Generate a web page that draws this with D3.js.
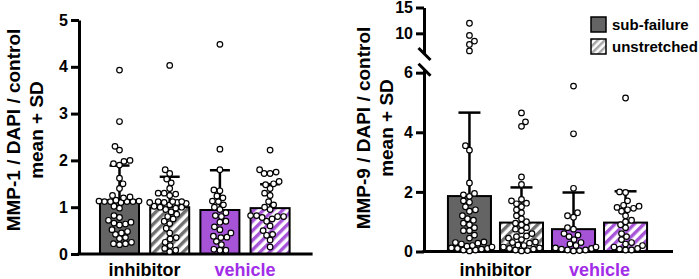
<!DOCTYPE html>
<html>
<head>
<meta charset="utf-8">
<script src="https://cdn.jsdelivr.net/npm/d3@7"></script>
<style>
  body { margin: 0; background: #fff; }
  svg { display: block; }
  svg text { font-family: "Liberation Sans", Arial, sans-serif; font-weight: bold; }
</style>
</head>
<body>
<div id="plot"></div>
<script>
// groups shown on the x axis, two conditions each
const groups = ["inhibitor", "vehicle"];
const conditions = ["sub-failure", "unstretched"];

// MMP-1 panel: bar = mean, whisker = +SD
const mmp1Means = [1.15, 1.00, 0.94, 0.98];
const mmp1SD = [0.74, 0.65, 0.85, 0.51];
// individual points per bar
const mmp1InhSub = [3.93, 2.83, 2.30, 2.22, 2.00, 1.98, 1.93, 1.90, 1.62, 1.50, 1.40, 1.25, 1.22, 1.20, 1.15, 1.13, 1.12, 1.12, 1.10, 1.12, 1.13, 1.12, 1.02, 0.98, 0.82, 0.78, 0.72, 0.68, 0.66, 0.64, 0.62, 0.52, 0.48, 0.45, 0.42, 0.35, 0.33, 0.25, 0.22, 0.22, 0.20];
const mmp1InhUn = [4.03, 1.80, 1.72, 1.60, 1.52, 1.40, 1.30, 1.30, 1.28, 1.25, 1.12, 1.12, 1.10, 1.10, 1.12, 1.08, 1.10, 1.05, 1.02, 1.00, 1.00, 0.98, 0.95, 0.90, 0.85, 0.80, 0.75, 0.70, 0.65, 0.55, 0.45, 0.35, 0.32, 0.25, 0.18, 0.12, 0.08, 0.05];
const mmp1VehSub = [4.48, 2.24, 1.80, 1.37, 1.35, 1.24, 1.20, 1.13, 1.12, 1.05, 1.00, 0.95, 0.88, 0.82, 0.80, 0.70, 0.68, 0.58, 0.52, 0.45, 0.38, 0.36, 0.35, 0.27, 0.20, 0.10, 0.08, 0.08];
const mmp1VehUn = [2.22, 1.80, 1.75, 1.72, 1.72, 1.55, 1.50, 1.48, 1.40, 1.30, 1.25, 1.12, 1.05, 1.00, 0.95, 0.82, 0.82, 0.80, 0.80, 0.78, 0.75, 0.70, 0.60, 0.50, 0.42, 0.40, 0.30, 0.15];

// MMP-9 panel
const mmp9Means = [1.86, 0.97, 0.75, 0.97];
const mmp9SD = [2.80, 1.18, 1.23, 1.05];
const mmp9InhSub = [11.95, 9.6, 8.5, 7.85, 6.6, 3.55, 3.40, 2.30, 1.95, 1.90, 1.85, 1.70, 1.65, 1.50, 1.40, 1.35, 1.20, 1.10, 1.05, 0.95, 0.90, 0.80, 0.70, 0.70, 0.55, 0.45, 0.32, 0.30, 0.28, 0.25, 0.20, 0.18, 0.15, 0.12, 0.10, 0.10, 0.08, 0.05, 0.05, 0.02];
const mmp9InhUn = [4.65, 4.35, 4.20, 2.50, 2.25, 1.75, 1.70, 1.62, 1.60, 1.50, 1.40, 1.30, 1.20, 1.10, 1.00, 0.95, 0.90, 0.80, 0.75, 0.70, 0.60, 0.52, 0.50, 0.45, 0.40, 0.32, 0.30, 0.28, 0.22, 0.20, 0.15, 0.12, 0.10, 0.08, 0.05, 0.03, 0.02];
const mmp9VehSub = [5.55, 3.95, 2.12, 1.30, 1.20, 1.15, 0.80, 0.75, 0.60, 0.55, 0.50, 0.40, 0.30, 0.25, 0.20, 0.15, 0.12, 0.10, 0.08, 0.05, 0.05, 0.03, 0.02];
const mmp9VehUn = [5.15, 2.00, 1.98, 1.70, 1.55, 1.52, 1.48, 1.45, 1.40, 1.35, 1.20, 1.05, 1.00, 0.90, 0.80, 0.60, 0.50, 0.40, 0.30, 0.25, 0.20, 0.15, 0.10, 0.08, 0.05, 0.05];

const mmp1Ticks = [0, 1, 2, 3, 4, 5];
const mmp9LowTicks = [0, 2, 4, 6];
const mmp9HighTicks = [10, 15];

const gray = "#646464", purple = "#a653d8", labelPurple = "#a22de8";

const svg = d3.select("#plot").append("svg")
  .attr("width", 699).attr("height", 279);

const defs = svg.append("defs");
function hatch(id, color, size) {
  const p = defs.append("pattern")
    .attr("id", id)
    .attr("patternUnits", "userSpaceOnUse")
    .attr("width", size).attr("height", size)
    .attr("patternTransform", "rotate(45)");
  p.append("rect").attr("width", size).attr("height", size).attr("fill", "#fff");
  p.append("rect").attr("width", size / 2).attr("height", size).attr("fill", color);
}
hatch("hatchGray", "#707070", 6.8);
hatch("hatchPurple", purple, 6.8);
hatch("hatchLegend", "#a8a8a8", 5);

const fills = [gray, "url(#hatchGray)", purple, "url(#hatchPurple)"];
const keys = groups.flatMap(g => conditions.map(c => g + "|" + c));

// simple beeswarm: place points one by one at the nearest free offset
function swarm(values, yOf, half, dist) {
  const placed = [];
  const sorted = values.map(v => ({v, py: yOf(v)})).sort((a, b) => a.v - b.v);
  sorted.forEach((p, i) => {
    let best = 0, bestD = -1;
    const sign = i % 2 ? 1 : -1;
    for (let k = 0; k <= half * 4; k++) {
      const off = (k % 2 ? sign : -sign) * Math.ceil(k / 2) * 0.5;
      let md = Infinity;
      placed.forEach(q => {
        const dd = Math.hypot(off - q.off, p.py - q.py);
        if (dd < md) md = dd;
      });
      if (md >= dist) { best = off; bestD = md; break; }
      if (md > bestD) { bestD = md; best = off; }
    }
    p.off = best;
    placed.push(p);
  });
  return placed;
}

function drawPanel(cfg) {
  const g = svg.append("g");
  const x = d3.scaleBand().domain(keys)
    .range(cfg.xRange).paddingInner(cfg.padIn).paddingOuter(cfg.padOut);
  const bw = x.bandwidth();
  const yOf = cfg.yOf;
  const y0 = yOf(0);

  // bars
  g.selectAll("rect.bar").data(keys).join("rect")
    .attr("class", "bar")
    .attr("x", k => x(k))
    .attr("width", bw)
    .attr("y", (k, i) => yOf(cfg.means[i]))
    .attr("height", (k, i) => y0 - yOf(cfg.means[i]))
    .attr("fill", (k, i) => fills[i])
    .attr("stroke", "#000").attr("stroke-width", 2);

  // +SD whiskers
  keys.forEach((k, i) => {
    const cx = x(k) + bw / 2;
    const top = yOf(cfg.means[i] + cfg.sds[i]);
    g.append("line").attr("x1", cx).attr("x2", cx)
      .attr("y1", yOf(cfg.means[i])).attr("y2", top)
      .attr("stroke", "#000").attr("stroke-width", 2.5);
    g.append("line").attr("x1", cx - cfg.cap).attr("x2", cx + cfg.cap)
      .attr("y1", top).attr("y2", top)
      .attr("stroke", "#000").attr("stroke-width", 2.5);
  });

  // axes
  cfg.axes.forEach(a => {
    const ax = g.append("g")
      .attr("transform", `translate(${cfg.xRange[0]},0)`)
      .call(d3.axisLeft(a.scale).tickValues(a.ticks).tickFormat(d3.format("d"))
        .tickSize(8).tickPadding(3).tickSizeOuter(0));
    ax.attr("font-family", null).attr("font-size", 16);
    ax.select(".domain").attr("stroke-width", 3);
    ax.selectAll(".tick line").attr("stroke-width", 3);
    ax.selectAll(".tick text").attr("fill", "#000");
  });
  g.append("line")
    .attr("x1", cfg.xRange[0] - 1.5).attr("x2", cfg.xRange[1] + 2)
    .attr("y1", y0).attr("y2", y0)
    .attr("stroke", "#000").attr("stroke-width", 3);

  // points
  keys.forEach((k, i) => {
    const cx = x(k) + bw / 2;
    const pts = swarm(cfg.points[i], yOf, bw / 2 + 1, 5.8);
    g.selectAll(null).data(pts).join("circle")
      .attr("cx", p => cx + p.off)
      .attr("cy", p => p.py)
      .attr("r", 2.8)
      .attr("fill", "#fff").attr("stroke", "#000").attr("stroke-width", 1.2);
  });

  // group labels
  groups.forEach((gr, j) => {
    const a = x(keys[j * 2]), b = x(keys[j * 2 + 1]) + bw;
    g.append("text").attr("x", (a + b) / 2).attr("y", 276)
      .attr("text-anchor", "middle").attr("font-size", 18)
      .attr("fill", j === 1 ? labelPurple : "#000")
      .text(gr);
  });

  // y title (two lines)
  cfg.title.forEach((t, j) => {
    g.append("text")
      .attr("transform", `translate(${cfg.titleX[j]},${cfg.titleY}) rotate(-90)`)
      .attr("dy", "0.35em").attr("text-anchor", "middle")
      .attr("font-size", 19).text(t);
  });
  return g;
}

// MMP-1 panel
const y1 = d3.scaleLinear().domain([0, 5]).range([254, 20]);
drawPanel({
  xRange: [79, 310.6], padIn: 0.223, padOut: 0.418,
  yOf: v => y1(v), means: mmp1Means, sds: mmp1SD, cap: 10,
  points: [mmp1InhSub, mmp1InhUn, mmp1VehSub, mmp1VehUn],
  axes: [{scale: y1, ticks: mmp1Ticks}],
  title: ["MMP-1 / DAPI / control", "mean + SD"], titleX: [13, 36], titleY: 130
});

// MMP-9 panel with broken axis
const y9lo = d3.scaleLinear().domain([0, 6.1]).range([251.5, 69.7]);
const y9hi = d3.scaleLinear().domain([6, 15]).range([54, 7.5]);
const p9 = drawPanel({
  xRange: [424, 671], padIn: 0.173, padOut: 0.46,
  yOf: v => v > 6.2 ? y9hi(v) : y9lo(v), means: mmp9Means, sds: mmp9SD, cap: 11,
  points: [mmp9InhSub, mmp9InhUn, mmp9VehSub, mmp9VehUn],
  axes: [{scale: y9lo, ticks: mmp9LowTicks}, {scale: y9hi, ticks: mmp9HighTicks}],
  title: ["MMP-9 / DAPI / control", "mean + SD"], titleX: [363, 386], titleY: 128
});
// break marks
[y9hi(6), y9lo(6.1)].forEach(yy => {
  p9.append("line").attr("x1", 418.5).attr("x2", 430.5)
    .attr("y1", yy - 6).attr("y2", yy + 6)
    .attr("stroke", "#000").attr("stroke-width", 3);
});

// legend
const legend = svg.append("g").attr("transform", "translate(591,17)");
[gray, "url(#hatchLegend)"].forEach((f, i) => {
  legend.append("rect").attr("x", 0).attr("y", i * 22).attr("width", 15).attr("height", 15)
    .attr("fill", f).attr("stroke", "#000").attr("stroke-width", 1.5);
  legend.append("text").attr("x", 21).attr("y", i * 22 + 7.5).attr("dy", "0.35em")
    .attr("font-size", 15).text(conditions[i]);
});
</script>
</body>
</html>
